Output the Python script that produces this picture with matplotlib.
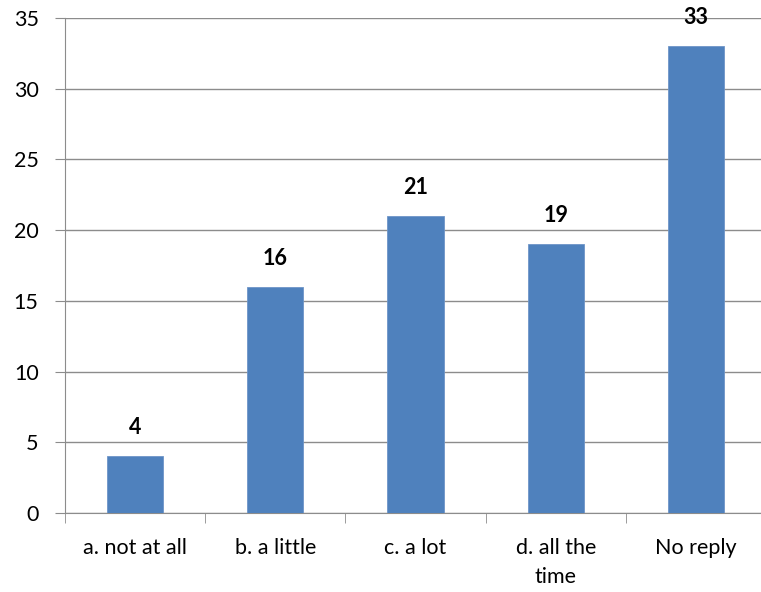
import matplotlib
matplotlib.use('Agg')
import matplotlib.pyplot as plt
import numpy as np

# Données du graphique
categories = ['a. not at all', 'b. a little', 'c. a lot', 'd. all the\ntime', 'No reply']
valeurs = [4, 16, 21, 19, 33]
yticks = [0, 5, 10, 15, 20, 25, 30, 35]

plt.rcParams['font.family'] = ['Lato', 'DejaVu Sans']
taille = 15.5

fig = plt.figure(figsize=(7.61, 5.92), dpi=100)
ax = fig.add_axes([65 / 761, 1 - 513 / 592, 701 / 761, 495 / 592])

x = np.arange(len(categories))
ax.bar(x, valeurs, width=0.4, color='#4F81BD', edgecolor='#6E95C8', linewidth=0.6, zorder=3)

# Etiquettes au-dessus des barres
for xi, v in zip(x, valeurs):
    ax.annotate(str(v), (xi, v), xytext=(0, 13), textcoords='offset points',
                ha='center', va='bottom', fontsize=taille, fontweight='bold')

ax.set_xlim(-0.5, len(categories) - 0.5)
ax.set_ylim(0, 35)
ax.set_yticks(yticks)
ax.set_yticklabels([str(t) for t in yticks], fontsize=taille)
ax.yaxis.grid(True, color='#8C8C8C', linewidth=1)
ax.set_axisbelow(True)

ax.set_xticks(x)
ax.set_xticklabels(categories, fontsize=taille, linespacing=1.55)
ax.set_xticks(np.arange(len(categories) + 1) - 0.5, minor=True)
ax.tick_params(axis='x', which='major', length=0, pad=18)
ax.tick_params(axis='x', which='minor', length=7, color='#8C8C8C')
ax.tick_params(axis='y', length=7, color='#8C8C8C', pad=12)

for s in ['top', 'right']:
    ax.spines[s].set_visible(False)
for s in ['left', 'bottom']:
    ax.spines[s].set_color('#8C8C8C')

fig.savefig('out.png', dpi=100)
